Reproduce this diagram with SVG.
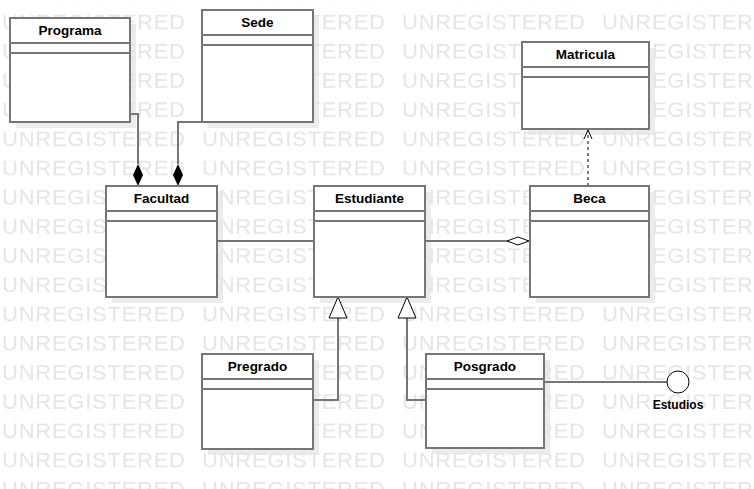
<svg xmlns="http://www.w3.org/2000/svg" width="754" height="489" viewBox="0 0 754 489">
<style>
.shadow{fill:#ececec}
.box{fill:#fff;stroke:#767676;stroke-width:2}
.sep{stroke:#767676;stroke-width:2}
.title{font-family:"Liberation Sans",Arial,sans-serif;font-size:13.5px;font-weight:bold;fill:#000;text-anchor:middle}
.lbl{font-family:"Liberation Sans",Arial,sans-serif;font-size:12px;font-weight:bold;fill:#000;text-anchor:middle}
.wm{font-family:"Liberation Sans",Arial,sans-serif;font-size:22px;fill:#e5e5e5}
.ln{fill:none;stroke:#767676;stroke-width:2}
.dash{fill:none;stroke:#000;stroke-width:1;stroke-dasharray:3,3}
.thin{fill:none;stroke:#000;stroke-width:1}
</style>
<defs>
<pattern id="wmp" patternUnits="userSpaceOnUse" x="2" y="6" width="200" height="29.2">
<text class="wm" x="0" y="23.4" textLength="183" lengthAdjust="spacing">UNREGISTERED</text>
</pattern>
</defs>
<rect width="754" height="489" fill="#fff"/>
<g id="shadows">
<rect class="shadow" x="16" y="24" width="120" height="104"/>
<rect class="shadow" x="208" y="16" width="111" height="112"/>
<rect class="shadow" x="528" y="48" width="127" height="87"/>
<rect class="shadow" x="112" y="192" width="111" height="111"/>
<rect class="shadow" x="320" y="192" width="111" height="111"/>
<rect class="shadow" x="536" y="192" width="119" height="111"/>
<rect class="shadow" x="208" y="360" width="111" height="95"/>
<rect class="shadow" x="432" y="360" width="118" height="94"/>
</g>
<rect id="watermark" width="754" height="489" fill="url(#wmp)"/>
<g id="connectors">
<polyline class="ln" points="130,114 138,114 138,164"/>
<polygon points="138,164 143,175 138,186 133,175" fill="#000"/>
<polyline class="ln" points="202,122 178,122 178,164"/>
<polygon points="178,164 183,175 178,186 173,175" fill="#000"/>
<line class="ln" x1="217" y1="241" x2="314" y2="241"/>
<line class="ln" x1="425" y1="241" x2="507" y2="241"/>
<polygon points="507,241 518,237 529,241 518,245" fill="#fff" stroke="#000" stroke-width="1"/>
<line class="dash" x1="588" y1="186" x2="588" y2="131"/>
<polyline class="thin" points="584,139 588,130 592,139"/>
<polyline class="ln" points="313,400 338,400 338,318"/>
<polygon points="338,297 347,318 329,318" fill="#fff" stroke="#000" stroke-width="1"/>
<polyline class="ln" points="426,400 407,400 407,318"/>
<polygon points="407,297 416,318 398,318" fill="#fff" stroke="#000" stroke-width="1"/>
<line class="ln" x1="544" y1="382" x2="667" y2="382"/>
</g>
<g id="Programa">
<rect class="box" x="10" y="18" width="120" height="104"/>
<line class="sep" x1="10" y1="43" x2="130" y2="43"/>
<line class="sep" x1="10" y1="53" x2="130" y2="53"/>
<text class="title" x="70" y="35">Programa</text>
</g>
<g id="Sede">
<rect class="box" x="202" y="10" width="111" height="112"/>
<line class="sep" x1="202" y1="35" x2="313" y2="35"/>
<line class="sep" x1="202" y1="45" x2="313" y2="45"/>
<text class="title" x="257.5" y="27">Sede</text>
</g>
<g id="Matricula">
<rect class="box" x="522" y="42" width="127" height="87"/>
<line class="sep" x1="522" y1="67" x2="649" y2="67"/>
<line class="sep" x1="522" y1="77" x2="649" y2="77"/>
<text class="title" x="585.5" y="59">Matricula</text>
</g>
<g id="Facultad">
<rect class="box" x="106" y="186" width="111" height="111"/>
<line class="sep" x1="106" y1="211" x2="217" y2="211"/>
<line class="sep" x1="106" y1="221" x2="217" y2="221"/>
<text class="title" x="161.5" y="203">Facultad</text>
</g>
<g id="Estudiante">
<rect class="box" x="314" y="186" width="111" height="111"/>
<line class="sep" x1="314" y1="211" x2="425" y2="211"/>
<line class="sep" x1="314" y1="221" x2="425" y2="221"/>
<text class="title" x="369.5" y="203">Estudiante</text>
</g>
<g id="Beca">
<rect class="box" x="530" y="186" width="119" height="111"/>
<line class="sep" x1="530" y1="211" x2="649" y2="211"/>
<line class="sep" x1="530" y1="221" x2="649" y2="221"/>
<text class="title" x="589.5" y="203">Beca</text>
</g>
<g id="Pregrado">
<rect class="box" x="202" y="354" width="111" height="95"/>
<line class="sep" x1="202" y1="379" x2="313" y2="379"/>
<line class="sep" x1="202" y1="389" x2="313" y2="389"/>
<text class="title" x="257.5" y="371">Pregrado</text>
</g>
<g id="Posgrado">
<rect class="box" x="426" y="354" width="118" height="94"/>
<line class="sep" x1="426" y1="379" x2="544" y2="379"/>
<line class="sep" x1="426" y1="389" x2="544" y2="389"/>
<text class="title" x="485" y="371">Posgrado</text>
</g>
<g id="Estudios">
<circle cx="678" cy="382" r="11" fill="#fff" stroke="#000" stroke-width="1"/>
<text class="lbl" x="678" y="409">Estudios</text>
</g>
</svg>
